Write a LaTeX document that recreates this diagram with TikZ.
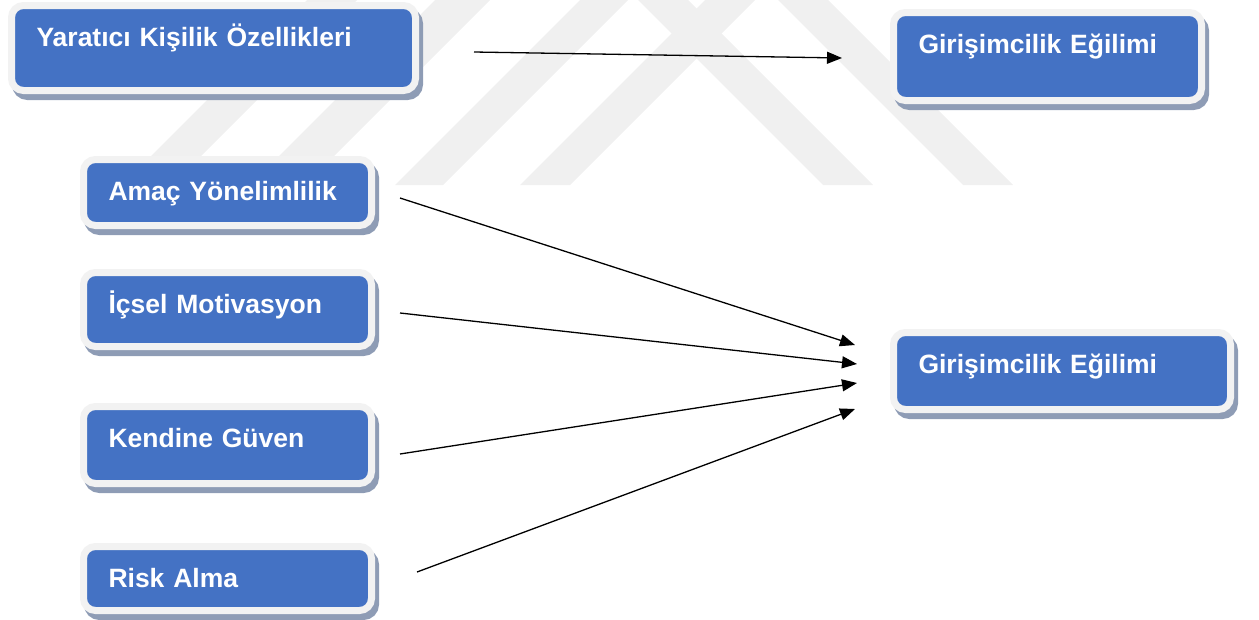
\documentclass[tikz,border=0pt]{standalone}
\usepackage{fontspec}
\setmainfont{Liberation Sans}
\usetikzlibrary{arrows.meta,shadows}
\definecolor{boxblue}{HTML}{4472C4}
\definecolor{boxrim}{HTML}{F2F2F2}
\definecolor{boxshade}{HTML}{8E9CB5}
\colorlet{wmark}{black!6}

\begin{document}
\begin{tikzpicture}[x=1pt, y=-1pt,
    factor/.style={rectangle, rounded corners=12pt, anchor=north west,
                   fill=boxblue, draw=boxrim, line width=7pt, outer sep=0pt,
                   inner xsep=25pt, inner ysep=0pt, align=left,
                   text=white, font=\fontsize{26.5}{30}\selectfont\bfseries,
                   text height=41pt,
                   drop shadow={shadow xshift=4pt, shadow yshift=-6pt, opacity=1,
                                fill=boxshade, draw=boxshade, line width=7pt}},
    link/.style={-{Triangle[length=15pt,width=12pt]}, line width=1.3pt, black}
]
\useasboundingbox (0,0) rectangle (1259,619);

% faint watermark bands
\foreach \a/\b in {122/172,250/305,395/443,520/570}
    \fill[wmark] (\a,185) -- (\b,185) -- ++(185,-185) -- ++(\a-\b,0) -- cycle;
\fill[wmark] (823,185) -- (873,185) -- (688,0) -- (638,0) -- cycle;
\fill[wmark] (963,185) -- (1013,185) -- (828,0) -- (778,0) -- cycle;

\node[factor, text width=354pt, text depth=44pt] (yaratici) at (11.5,5.5) {Yaratıcı Kişilik Özellikleri};
\node[factor, text width=258pt, text depth=47pt] (egilim1) at (893.5,12.5) {Girişimcilik Eğilimi};

\node[factor, text width=238pt, text depth=25pt] (amac) at (83.5,159.5) {Amaç Yönelimlilik};
\node[factor, text width=238pt, text depth=33pt] (icsel) at (83.5,272.5) {İçsel Motivasyon};
\node[factor, text width=238pt, text depth=36pt] (guven) at (83.5,406.5) {Kendine Güven};
\node[factor, text width=238pt, text depth=23pt] (risk) at (83.5,546.5) {Risk Alma};
\node[factor, text width=287pt, text depth=36pt] (egilim2) at (893.5,332.5) {Girişimcilik Eğilimi};

\draw[link] ([xshift=58.5pt,yshift=-4pt]yaratici.east) -- ([xshift=-51.5pt,yshift=-1.5pt]egilim1.west);

\draw[link] ([xshift=28.5pt,yshift=-5.5pt]amac.east) -- ([xshift=-38.5pt,yshift=26pt]egilim2.west);
\draw[link] ([xshift=28.5pt,yshift=-3.5pt]icsel.east) -- ([xshift=-36.5pt,yshift=7pt]egilim2.west);
\draw[link] ([xshift=28.5pt,yshift=-9pt]guven.east) -- ([xshift=-36.5pt,yshift=-12pt]egilim2.west);
\draw[link] ([xshift=45.5pt,yshift=6.5pt]risk.east) -- ([xshift=-38.5pt,yshift=-38pt]egilim2.west);

\end{tikzpicture}
\end{document}
